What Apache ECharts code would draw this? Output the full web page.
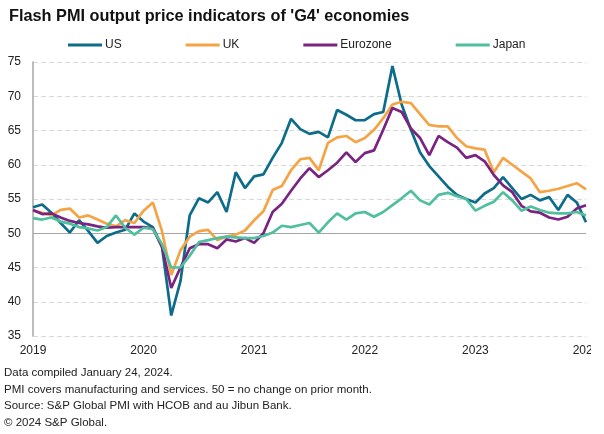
<!DOCTYPE html>
<html>
<head>
<meta charset="utf-8">
<script src="https://cdn.jsdelivr.net/npm/echarts@6/dist/echarts.min.js"></script>
<style>
html,body{margin:0;padding:0;background:#fff;}
#chart{width:604px;height:434px;}
</style>
</head>
<body>
<div id="chart"></div>
<script>
// Monthly, Jan 2019 .. Jan 2024
var years = ['2019','2020','2021','2022','2023','2024'];
var months = ['01','02','03','04','05','06','07','08','09','10','11','12'];
var categories = [];
years.forEach(function (y) { months.forEach(function (m) { if (categories.length < 61) categories.push(y + '-' + m); }); });

var usValues = [
  53.8, 54.2, 53.0, 51.5, 50.1, 51.9, 50.3, 48.6, 49.6, 50.1, 50.5, 52.9,
  51.7, 50.9, 48.0, 38.0, 43.0, 52.6, 55.1, 54.5, 56.0, 53.1, 58.9, 56.6,
  58.3, 58.6, 61.0, 63.2, 66.7, 65.2, 64.5, 64.8, 64.0, 68.0, 67.3, 66.5,
  66.5, 67.4, 67.7, 74.4, 68.8, 65.1, 61.8, 59.8, 58.3, 56.8, 55.6, 55.0,
  54.5, 55.8, 56.6, 58.2, 56.6, 55.0, 55.6, 54.8, 55.3, 53.4, 55.6, 54.5,
  51.6
];
var ukValues = [
  53.3, 53.0, 52.6, 53.4, 53.6, 52.3, 52.6, 52.0, 51.4, 51.0, 51.9, 51.5,
  53.3, 54.5, 50.3, 43.9, 47.5, 49.5, 50.3, 50.5, 49.0, 49.5, 49.8, 50.4,
  51.9, 53.2, 56.3, 56.9, 59.2, 60.8, 61.0, 59.2, 63.2, 64.0, 64.2, 63.3,
  63.9, 65.1, 66.8, 68.8, 69.2, 69.0, 67.4, 65.8, 65.6, 65.6, 63.9, 62.7,
  62.4, 62.2, 58.9, 61.0, 60.0, 59.0, 58.0, 56.0, 56.2, 56.5, 56.9, 57.3,
  56.4
];
var euroValues = [
  53.4, 52.8, 52.9, 52.3, 51.8, 51.5, 51.3, 51.0, 50.8, 50.9, 50.9, 50.9,
  50.9, 50.7, 48.0, 42.0, 45.0, 47.8, 48.4, 48.4, 47.8, 49.1, 48.8, 49.3,
  48.6, 50.0, 53.1, 54.3, 56.2, 58.0, 59.5, 58.2, 59.2, 60.3, 61.8, 60.4,
  61.7, 62.1, 65.1, 68.3, 67.7, 65.3, 63.9, 61.4, 64.2, 63.3, 62.5, 61.0,
  61.4, 60.5, 58.5, 57.0, 56.0, 54.0, 53.2, 53.0, 52.3, 52.0, 52.4, 53.6,
  54.1
];
var japanValues = [
  52.2, 52.0, 52.3, 51.7, 51.4, 50.9, 50.7, 50.4, 50.9, 52.6, 50.8, 49.8,
  50.8, 50.6, 48.4, 45.0, 45.0, 46.7, 48.7, 49.0, 49.3, 49.5, 49.4, 49.3,
  49.3, 49.6, 50.1, 51.1, 50.9, 51.2, 51.5, 50.1, 51.6, 52.9, 52.0, 52.9,
  53.1, 52.4, 53.1, 54.1, 55.1, 56.2, 54.8, 54.2, 55.6, 55.9, 55.4, 55.0,
  53.3, 54.0, 54.6, 56.0, 54.8, 53.3, 53.9, 53.4, 53.0, 52.9, 52.9, 53.1,
  52.6
];
var seriesNames = ['US', 'UK', 'Eurozone', 'Japan'];
var yTicks = { min: 35, max: 75, interval: 5 };
var footerLines = [
  'Data compiled January 24, 2024.',
  'PMI covers manufacturing and services. 50 = no change on prior month.',
  'Source: S&P Global PMI with HCOB and au Jibun Bank.',
  '\u00a9 2024 S&P Global.'
];

var FONT = '"Liberation Sans", Arial, Helvetica, sans-serif';
var colors = ['#0d6c89', '#f5a445', '#7a2380', '#4fbf9d'];
var dataSets = [usValues, ukValues, euroValues, japanValues];

var chart = echarts.init(document.getElementById('chart'), null, { renderer: 'canvas' });

var series = seriesNames.map(function (name, i) {
  var s = {
    name: name,
    type: 'line',
    data: dataSets[i],
    symbol: 'none',
    smooth: false,
    lineStyle: { width: 2.7, color: colors[i] },
    itemStyle: { color: colors[i] },
    z: 3 + i
  };
  if (i === 0) {
    s.markLine = {
      silent: true,
      symbol: ['none', 'none'],
      label: { show: false },
      lineStyle: { color: '#a6a6a6', type: 'solid', width: 1.2 },
      data: [{ yAxis: 50 }],
      z: 1
    };
  }
  return s;
});

var graphics = footerLines.map(function (t, i) {
  return {
    type: 'text',
    left: 4,
    top: 367 + i * 16.5,
    style: { text: t, font: '11.5px ' + FONT, fill: '#222' }
  };
});
graphics.push({
  type: 'rect',
  shape: { x: 591, y: 340, width: 13, height: 20 },
  style: { fill: '#fff' },
  z: 100
});

chart.setOption({
  backgroundColor: '#fff',
  animation: false,
  color: colors,
  title: {
    text: "Flash PMI output price indicators of 'G4' economies",
    left: 4,
    top: 4,
    textStyle: { fontFamily: FONT, fontSize: 16.3, fontWeight: 'bold', color: '#111' }
  },
  legend: {
    data: seriesNames,
    icon: 'rect',
    left: 63,
    top: 34,
    itemGap: 64,
    itemWidth: 34,
    itemHeight: 3,
    textStyle: { fontFamily: FONT, fontSize: 12, color: '#222', padding: [0, 0, 0, -2] }
  },
  grid: { left: 33, right: 18, top: 62, bottom: 98, containLabel: false },
  xAxis: {
    type: 'category',
    data: categories,
    boundaryGap: false,
    axisLine: { show: false },
    axisTick: { show: false },
    splitLine: { show: false },
    axisLabel: {
      interval: function (idx) { return idx % 12 === 0; },
      formatter: function (v) { return v.slice(0, 4); },
      fontFamily: FONT, fontSize: 12, color: '#222', margin: 9
    }
  },
  yAxis: {
    type: 'value',
    min: yTicks.min,
    max: yTicks.max,
    interval: yTicks.interval,
    axisLine: { show: true, lineStyle: { color: '#a6a6a6', width: 1.5 } },
    axisTick: { show: false },
    splitLine: { show: true, lineStyle: { color: '#d9d9d9', type: [5, 3], width: 1 } },
    axisLabel: { fontFamily: FONT, fontSize: 12, color: '#222', margin: 12 }
  },
  graphic: graphics,
  series: series
});
</script>
</body>
</html>
